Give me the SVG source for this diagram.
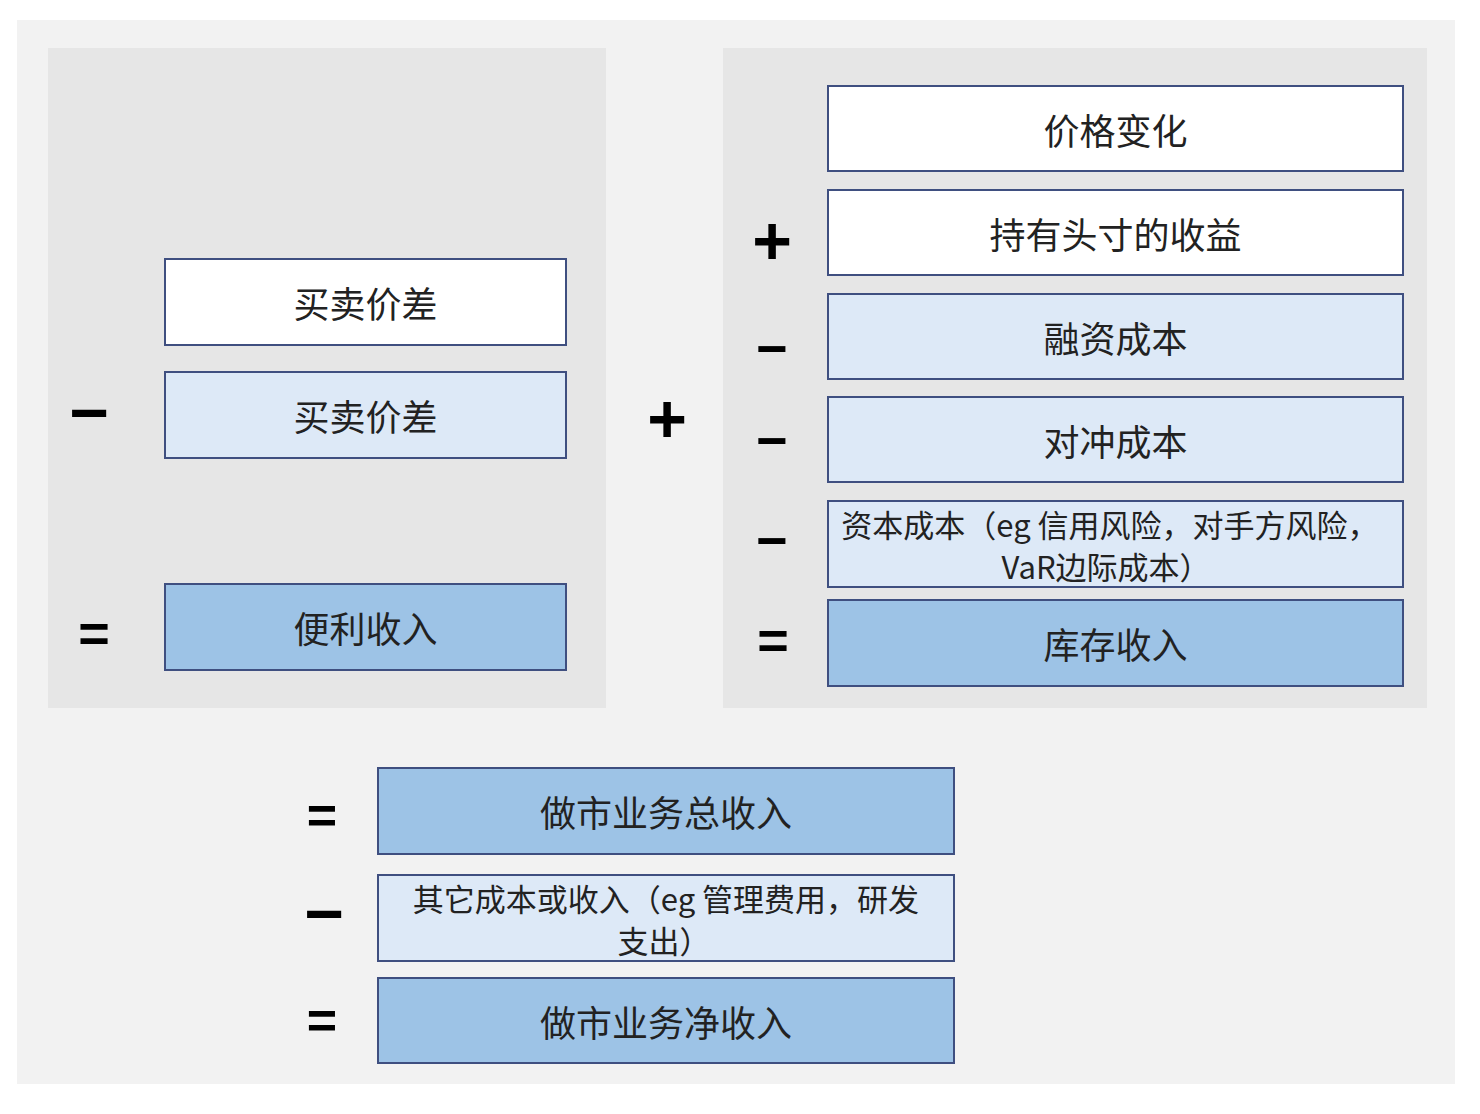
<svg xmlns="http://www.w3.org/2000/svg" width="1480" height="1114" viewBox="0 0 1480 1114">
<style>
.bx{stroke:#3f4f80;stroke-width:2}
.w{fill:#ffffff}
.l{fill:#dde9f7}
.m{fill:#9dc3e6}
.t{font-family:"Noto Sans CJK SC","Liberation Sans",sans-serif;font-size:36px;fill:#222;text-anchor:middle;dominant-baseline:central}
.s{font-size:31px}
.op{font-family:"Liberation Sans","DejaVu Sans",sans-serif;font-weight:bold;fill:#000;text-anchor:middle;dominant-baseline:central}
</style>
<rect x="0" y="0" width="1480" height="1114" fill="#ffffff"/>
<rect x="17" y="20" width="1438" height="1064" fill="#f2f2f2"/>
<rect x="48" y="48" width="558" height="660" fill="#e6e6e6"/>
<rect x="723" y="48" width="704" height="660" fill="#e6e6e6"/>

<g id="n1"><rect class="bx w" x="165" y="259" width="401" height="86"/><text class="t" x="365.5" y="302">买卖价差</text></g>
<g id="n2"><rect class="bx l" x="165" y="372" width="401" height="86"/><text class="t" x="365.5" y="415">买卖价差</text></g>
<g id="n3"><rect class="bx m" x="165" y="584" width="401" height="86"/><text class="t" x="365.5" y="627">便利收入</text></g>

<g id="n4"><rect class="bx w" x="828" y="86" width="575" height="85"/><text class="t" x="1115.5" y="128.5">价格变化</text></g>
<g id="n5"><rect class="bx w" x="828" y="190" width="575" height="85"/><text class="t" x="1115.5" y="232.5">持有头寸的收益</text></g>
<g id="n6"><rect class="bx l" x="828" y="294" width="575" height="85"/><text class="t" x="1115.5" y="336.5">融资成本</text></g>
<g id="n7"><rect class="bx l" x="828" y="397" width="575" height="85"/><text class="t" x="1115.5" y="439.5">对冲成本</text></g>
<g id="n8"><rect class="bx l" x="828" y="501" width="575" height="86"/><text class="t s" x="1110" y="523">资本成本（eg 信用风险，对手方风险，</text><text class="t s" x="1106" y="565">VaR边际成本）</text></g>
<g id="n9"><rect class="bx m" x="828" y="600" width="575" height="86"/><text class="t" x="1115.5" y="643">库存收入</text></g>

<g id="n10"><rect class="bx m" x="378" y="768" width="576" height="86"/><text class="t" x="666" y="811">做市业务总收入</text></g>
<g id="n11"><rect class="bx l" x="378" y="875" width="576" height="86"/><text class="t s" x="666" y="897">其它成本或收入（eg 管理费用，研发</text><text class="t s" x="664" y="939">支出）</text></g>
<g id="n12"><rect class="bx m" x="378" y="978" width="576" height="85"/><text class="t" x="666" y="1020.5">做市业务净收入</text></g>

<g id="connectors">
<text class="op" x="89" y="412" font-size="68">−</text>
<text class="op" x="94" y="633" font-size="54">=</text>
<text class="op" x="667" y="418" font-size="68">+</text>
<text class="op" x="772" y="240" font-size="68">+</text>
<text class="op" x="772" y="348" font-size="54">−</text>
<text class="op" x="772" y="440" font-size="54">−</text>
<text class="op" x="772" y="540" font-size="54">−</text>
<text class="op" x="773" y="640" font-size="54">=</text>
<text class="op" x="322" y="815" font-size="52">=</text>
<text class="op" x="324" y="913" font-size="68">−</text>
<text class="op" x="322" y="1020" font-size="52">=</text>
</g>
</svg>
